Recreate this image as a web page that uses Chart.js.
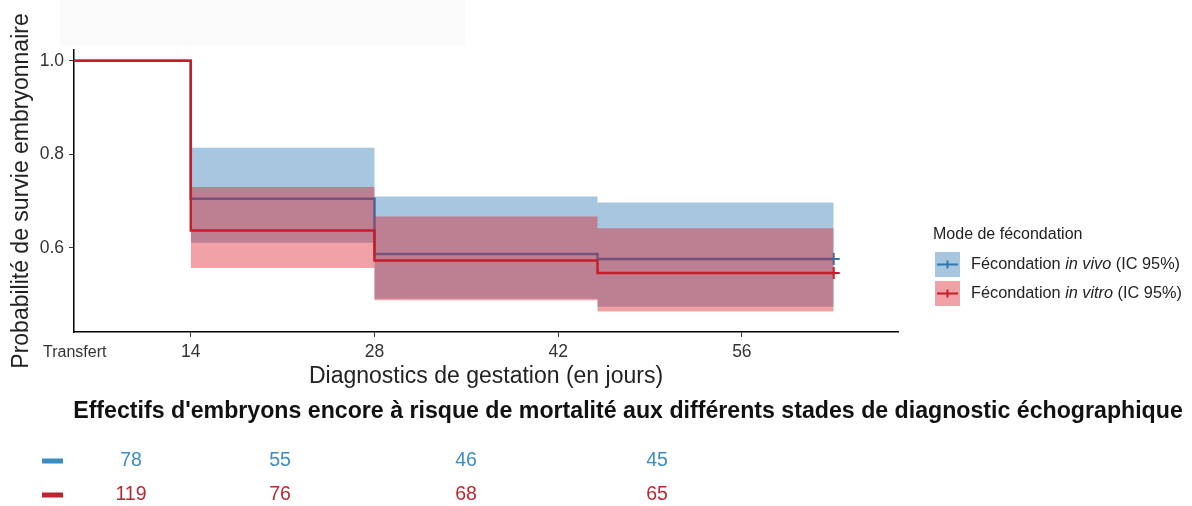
<!DOCTYPE html>
<html>
<head>
<meta charset="utf-8">
<script src="https://cdn.jsdelivr.net/npm/chart.js@4.4.1/dist/chart.umd.min.js"></script>
<style>
  html, body { margin: 0; padding: 0; background: #fff; }
  #wrap { width: 1192px; height: 506px; position: relative; }
</style>
</head>
<body>
<div id="wrap"><canvas id="km" width="1192" height="506"></canvas></div>
<script>
// Kaplan-Meier survival of embryos by fertilisation mode (days after transfer)
const transferDay = 5.1;
const stageDays = [transferDay, 14, 28, 45];
const lastFollowUpDay = 63;

const vivoSurv   = [1.0, 0.705, 0.587, 0.576];
const vivoLower  = [1.0, 0.611, 0.491, 0.474];
const vivoUpper  = [1.0, 0.814, 0.710, 0.697];

const vitroSurv  = [1.0, 0.637, 0.573, 0.546];
const vitroLower = [1.0, 0.557, 0.488, 0.464];
const vitroUpper = [1.0, 0.730, 0.667, 0.642];

const xTickDays  = [14, 28, 42, 56];
const yTickVals  = [0.6, 0.8, 1.0];

const vivoAtRisk  = [78, 55, 46, 45];
const vitroAtRisk = [119, 76, 68, 65];

const legendTitle = 'Mode de fécondation';
const legendVivo  = ['Fécondation ', 'in vivo', ' (IC 95%)'];
const legendVitro = ['Fécondation ', 'in vitro', ' (IC 95%)'];
const riskTitle = "Effectifs d'embryons encore à risque de mortalité aux différents stades de diagnostic échographique";

const BLUE_LINE = 'rgb(46,120,180)';
const RED_LINE  = 'rgb(196,30,42)';
const BLUE_BAND = 'rgba(46,120,180,0.42)';
const RED_BAND  = 'rgba(220,30,40,0.42)';
const FONT = "'Liberation Sans', Arial, Helvetica, sans-serif";

// step curve points: value holds until the next stage, then drops
function stepPoints(values, from) {
  const pts = [];
  for (let i = from; i < values.length; i++) pts.push({ x: stageDays[i], y: values[i] });
  pts.push({ x: lastFollowUpDay, y: values[values.length - 1] });
  return pts;
}
function censorRadius(n, r) {
  return Array.from({ length: n }, (_, i) => (i === n - 1 ? r : 0));
}

const lineBase = { stepped: 'before', pointRadius: 0, fill: false, tension: 0 };

const datasets = [
  // in vivo confidence band
  Object.assign({}, lineBase, { data: stepPoints(vivoUpper, 1), borderWidth: 0, backgroundColor: BLUE_BAND, fill: '+1', order: 6 }),
  Object.assign({}, lineBase, { data: stepPoints(vivoLower, 1), borderWidth: 0, order: 5 }),
  // in vivo survival curve
  Object.assign({}, lineBase, {
    data: stepPoints(vivoSurv, 0), borderColor: BLUE_LINE, borderWidth: 2.5, order: 4,
    pointStyle: 'cross', pointRadius: censorRadius(5, 6), pointBorderColor: BLUE_LINE, pointBorderWidth: 2
  }),
  // in vitro confidence band
  Object.assign({}, lineBase, { data: stepPoints(vitroUpper, 1), borderWidth: 0, backgroundColor: RED_BAND, fill: '+1', order: 3 }),
  Object.assign({}, lineBase, { data: stepPoints(vitroLower, 1), borderWidth: 0, order: 2 }),
  // in vitro survival curve
  Object.assign({}, lineBase, {
    data: stepPoints(vitroSurv, 0), borderColor: RED_LINE, borderWidth: 2.5, order: 1,
    pointStyle: 'cross', pointRadius: censorRadius(5, 6), pointBorderColor: RED_LINE, pointBorderWidth: 2
  })
];

// extra texts: header strip, "Transfert", legend and numbers-at-risk table
const annotations = {
  id: 'annotations',
  beforeDraw(chart) {
    const ctx = chart.ctx;
    ctx.save();
    ctx.fillStyle = '#fafafa';
    ctx.fillRect(60, 0, 405, 45);
    ctx.restore();
  },
  afterDraw(chart) {
    const ctx = chart.ctx;
    const area = chart.chartArea;
    ctx.save();

    // origin label
    ctx.fillStyle = '#333';
    ctx.font = `16px ${FONT}`;
    ctx.textAlign = 'left';
    ctx.textBaseline = 'middle';
    ctx.fillText('Transfert', area.left - 31, 353);

    // legend
    ctx.fillStyle = '#222';
    ctx.font = `16px ${FONT}`;
    ctx.fillText(legendTitle, 933, 235);
    const entries = [
      { parts: legendVivo, band: BLUE_BAND, line: BLUE_LINE, y: 252 },
      { parts: legendVitro, band: RED_BAND, line: RED_LINE, y: 281 }
    ];
    entries.forEach(e => {
      ctx.fillStyle = e.band;
      ctx.fillRect(935, e.y, 25, 25);
      const cy = e.y + 12.5;
      ctx.strokeStyle = e.line;
      ctx.lineWidth = 2;
      ctx.beginPath();
      ctx.moveTo(937, cy); ctx.lineTo(958, cy);
      ctx.moveTo(947.5, cy - 4); ctx.lineTo(947.5, cy + 4);
      ctx.stroke();
      let x = 971;
      ctx.fillStyle = '#222';
      e.parts.forEach((p, i) => {
        ctx.font = (i === 1 ? 'italic ' : '') + `16.3px ${FONT}`;
        ctx.fillText(p, x, cy);
        x += ctx.measureText(p).width;
      });
    });

    // numbers at risk
    let size = 20;
    ctx.font = `bold ${size}px ${FONT}`;
    size = size * 1110 / ctx.measureText(riskTitle).width;
    ctx.font = `bold ${size}px ${FONT}`;
    ctx.fillStyle = '#111';
    ctx.textAlign = 'center';
    ctx.fillText(riskTitle, 628, 412);

    const cols = [131, 280, 466, 657];
    const rows = [
      { vals: vivoAtRisk, color: 'rgb(60,140,195)', y: 461 },
      { vals: vitroAtRisk, color: 'rgb(185,40,50)', y: 495 }
    ];
    rows.forEach(r => {
      ctx.fillStyle = r.color;
      ctx.fillRect(42, r.y - 2.5, 21, 5);
      ctx.font = `19.5px ${FONT}`;
      r.vals.forEach((v, i) => ctx.fillText(String(v), cols[i], r.y));
    });
    ctx.restore();
  }
};

Chart.defaults.font.family = FONT;

new Chart(document.getElementById('km'), {
  type: 'line',
  data: { datasets },
  plugins: [annotations],
  options: {
    responsive: false,
    animation: false,
    events: [],
    layout: { padding: { left: 0, top: 50, right: 294, bottom: 0 } },
    plugins: { legend: { display: false }, tooltip: { enabled: false } },
    scales: {
      x: {
        type: 'linear',
        min: transferDay,
        max: 67.9,
        afterBuildTicks: s => { s.ticks = xTickDays.map(v => ({ value: v })); },
        afterFit: s => { s.height = 174; },
        grid: { drawOnChartArea: false, drawTicks: true, tickLength: 5, color: '#333', lineWidth: 1 },
        border: { display: true, color: '#000', width: 1.5 },
        ticks: { font: { size: 17.5 }, color: '#333', padding: 5, maxRotation: 0, autoSkip: false },
        title: { display: true, text: 'Diagnostics de gestation (en jours)', font: { size: 23 }, color: '#222', padding: { bottom: 116 } }
      },
      y: {
        type: 'linear',
        min: 0.42,
        max: 1.023,
        afterBuildTicks: s => { s.ticks = yTickVals.map(v => ({ value: v })); },
        afterFit: s => { s.width = 74; },
        grid: { drawOnChartArea: false, drawTicks: true, tickLength: 5, color: '#333', lineWidth: 1 },
        border: { display: true, color: '#000', width: 1.5 },
        ticks: { font: { size: 17.5 }, color: '#333', padding: 5, callback: v => Number(v).toFixed(1) },
        title: { display: true, text: 'Probabilité de survie embryonnaire', font: { size: 23 }, color: '#222', padding: { top: 8 } }
      }
    }
  }
});
</script>
</body>
</html>
